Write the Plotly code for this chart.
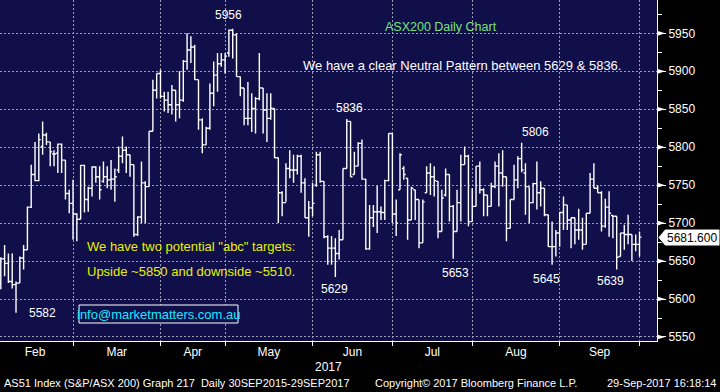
import plotly.graph_objects as go

# ---------------- data ----------------
months = ["Feb", "Mar", "Apr", "May", "Jun", "Jul", "Aug", "Sep"]
days_per_month = [20, 23, 17, 23, 21, 21, 23, 21]   # ASX trading days

open_ = [5621, 5653, 5647, 5623, 5619, 5621, 5654, 5665, 5721, 5764,
         5756, 5801, 5816, 5807, 5791, 5792, 5804, 5783, 5739, 5726,
         5712, 5705, 5776, 5731, 5746, 5774, 5761, 5755, 5761, 5757,
         5758, 5770, 5788, 5796, 5790, 5777, 5685, 5708, 5753, 5748,
         5821, 5875, 5897, 5867, 5862, 5856, 5875, 5856, 5862, 5913,
         5928, 5932, 5889, 5836, 5803, 5825, 5871, 5895, 5910, 5915,
         5924, 5954, 5948, 5893, 5878, 5838, 5838, 5851, 5864, 5878,
         5849, 5838, 5851, 5786, 5740, 5727, 5772, 5770, 5770, 5788,
         5753, 5707, 5720, 5750, 5790, 5755, 5682, 5667, 5667, 5660,
         5678, 5772, 5834, 5764, 5775, 5805, 5758, 5666, 5707, 5715,
         5715, 5714, 5756, 5818, 5712, 5744, 5772, 5759, 5704, 5744,
         5731, 5674, 5740, 5766, 5761, 5755, 5689, 5737, 5764, 5722,
         5689, 5727, 5777, 5788, 5702, 5722, 5775, 5744, 5737, 5722,
         5748, 5775, 5766, 5761, 5693, 5731, 5757, 5785, 5766, 5748,
         5727, 5752, 5740, 5746, 5711, 5669, 5669, 5687, 5714, 5724,
         5704, 5707, 5691, 5691, 5672, 5713, 5758, 5746, 5740, 5696,
         5721, 5710, 5709, 5656, 5687, 5685, 5685, 5672, 5672]
high = [5655, 5671, 5660, 5660, 5623, 5656, 5671, 5722, 5777, 5807,
        5818, 5834, 5819, 5807, 5796, 5805, 5805, 5783, 5744, 5757,
        5713, 5777, 5777, 5748, 5775, 5775, 5775, 5781, 5775, 5783,
        5772, 5801, 5814, 5801, 5790, 5777, 5709, 5781, 5755, 5821,
        5889, 5897, 5902, 5873, 5873, 5882, 5875, 5900, 5915, 5950,
        5946, 5935, 5889, 5838, 5827, 5884, 5913, 5924, 5924, 5924,
        5955, 5956, 5950, 5893, 5878, 5886, 5871, 5866, 5924, 5878,
        5871, 5871, 5851, 5786, 5742, 5779, 5796, 5790, 5790, 5790,
        5759, 5729, 5753, 5794, 5794, 5755, 5684, 5683, 5680, 5691,
        5772, 5837, 5834, 5794, 5807, 5810, 5758, 5724, 5724, 5749,
        5722, 5757, 5818, 5818, 5731, 5792, 5775, 5759, 5748, 5744,
        5731, 5731, 5775, 5779, 5775, 5755, 5744, 5772, 5764, 5724,
        5744, 5790, 5801, 5790, 5746, 5775, 5781, 5746, 5737, 5753,
        5781, 5792, 5796, 5761, 5731, 5777, 5788, 5806, 5779, 5748,
        5753, 5781, 5755, 5746, 5711, 5702, 5691, 5715, 5735, 5724,
        5707, 5707, 5719, 5707, 5713, 5766, 5779, 5750, 5742, 5732,
        5742, 5710, 5709, 5687, 5698, 5711, 5685, 5685, 5689]
low = [5613, 5630, 5621, 5614, 5582, 5621, 5639, 5665, 5720, 5755,
       5755, 5790, 5803, 5775, 5775, 5766, 5766, 5731, 5713, 5678,
       5676, 5705, 5714, 5715, 5735, 5753, 5731, 5753, 5746, 5744,
       5728, 5766, 5779, 5766, 5761, 5682, 5683, 5700, 5700, 5748,
       5821, 5864, 5864, 5847, 5845, 5843, 5834, 5838, 5860, 5902,
       5911, 5889, 5823, 5792, 5803, 5823, 5854, 5873, 5906, 5897,
       5919, 5917, 5893, 5867, 5829, 5829, 5820, 5818, 5862, 5818,
       5807, 5836, 5786, 5700, 5709, 5728, 5759, 5753, 5764, 5740,
       5707, 5682, 5709, 5748, 5753, 5680, 5645, 5645, 5629, 5652,
       5678, 5772, 5761, 5764, 5775, 5757, 5665, 5665, 5695, 5687,
       5704, 5704, 5755, 5700, 5683, 5744, 5757, 5678, 5704, 5704,
       5667, 5674, 5740, 5737, 5735, 5680, 5689, 5735, 5702, 5653,
       5689, 5702, 5777, 5696, 5702, 5722, 5739, 5709, 5709, 5722,
       5746, 5722, 5748, 5676, 5693, 5731, 5746, 5767, 5711, 5700,
       5726, 5718, 5722, 5709, 5669, 5645, 5656, 5669, 5691, 5691,
       5667, 5672, 5678, 5665, 5672, 5713, 5746, 5740, 5689, 5694,
       5682, 5680, 5639, 5656, 5665, 5672, 5650, 5663, 5656]
close = [5653, 5647, 5623, 5619, 5621, 5654, 5665, 5721, 5764, 5756,
         5810, 5816, 5807, 5794, 5791, 5804, 5783, 5739, 5726, 5712,
         5705, 5776, 5731, 5746, 5774, 5761, 5744, 5761, 5757, 5758,
         5761, 5788, 5796, 5790, 5777, 5685, 5708, 5753, 5748, 5821,
         5875, 5897, 5867, 5862, 5856, 5875, 5856, 5862, 5913, 5928,
         5932, 5889, 5836, 5803, 5825, 5871, 5895, 5910, 5915, 5920,
         5954, 5948, 5893, 5878, 5838, 5838, 5851, 5864, 5878, 5849,
         5838, 5851, 5786, 5740, 5727, 5772, 5770, 5770, 5788, 5753,
         5707, 5720, 5726, 5790, 5755, 5682, 5667, 5667, 5660, 5678,
         5772, 5834, 5761, 5775, 5805, 5758, 5666, 5707, 5715, 5715,
         5714, 5756, 5818, 5712, 5700, 5790, 5764, 5704, 5746, 5731,
         5674, 5728, 5766, 5761, 5756, 5689, 5733, 5764, 5722, 5689,
         5727, 5777, 5788, 5702, 5722, 5775, 5744, 5737, 5722, 5748,
         5775, 5766, 5761, 5693, 5731, 5757, 5785, 5770, 5748, 5727,
         5752, 5740, 5746, 5711, 5669, 5669, 5687, 5714, 5724, 5704,
         5707, 5691, 5691, 5672, 5713, 5758, 5746, 5740, 5696, 5721,
         5713, 5709, 5655, 5687, 5685, 5685, 5672, 5672, 5681.6]

last_price = "5681.600"
y_ticks = [5550, 5600, 5650, 5700, 5750, 5800, 5850, 5900, 5950]

# ---------------- derived positions ----------------
idx = list(range(len(close)))
bounds = []          # last trading day of each month (gridline / tick)
s = -1
for d in days_per_month:
    s += d
    bounds.append(s)
prev = [-1] + bounds[:-1]
mids = [(a + b) / 2 for a, b in zip(prev, bounds)]

PW, PH = 657.0, 341.0           # plot area in px
def px(x):
    return x / PW
def py(y):
    return 1 - y / PH

NAVY = "#100f4a"
GRID = "#9c9cae"
FONT = "Liberation Sans, Arial, sans-serif"

fig = go.Figure(go.Ohlc(
    x=idx, open=open_, high=high, low=low, close=close,
    increasing=dict(line=dict(color="white", width=1.4)),
    decreasing=dict(line=dict(color="white", width=1.4)),
    tickwidth=0.5, hoverinfo="skip", showlegend=False))

fig.update_layout(
    template="none",
    width=720, height=392,
    margin=dict(l=0, r=63, t=0, b=51, pad=0),
    paper_bgcolor="black", plot_bgcolor=NAVY,
    font=dict(family=FONT, color="white", size=12),
    showlegend=False,
    xaxis=dict(
        range=[-0.21, 172.6], automargin=False,
        rangeslider=dict(visible=False),
        tickmode="array", tickvals=mids, ticktext=months,
        ticks="", showgrid=False, zeroline=False,
        showline=True, linecolor="white", linewidth=1,
        tickfont=dict(size=12, color="white", family=FONT),
        minor=dict(tickmode="array", tickvals=bounds, ticks="outside",
                   ticklen=4, tickcolor="white", tickwidth=1,
                   showgrid=True, gridcolor=GRID, griddash="2px,2px",
                   gridwidth=1),
    ),
    yaxis=dict(
        side="right", range=[5544.7, 5993.9], automargin=False,
        tickmode="array", tickvals=y_ticks,
        ticks="outside", ticklen=8, tickcolor="white", tickwidth=1,
        showgrid=True, gridcolor=GRID, griddash="2px,2px", gridwidth=1,
        zeroline=False, showline=True, linecolor="white", linewidth=1,
        tickfont=dict(size=12, color="white", family=FONT),
        minor=dict(dtick=25, tick0=5550, ticks="outside", ticklen=4,
                   tickcolor="white", tickwidth=1, showgrid=False),
    ),
)

shapes = []
# triangles on the price axis
dv = 2.6 / 0.7593
for v in y_ticks:
    shapes.append(dict(type="path", xref="paper", yref="y",
                       path=f"M 1.0,{v + dv} L {px(665)},{v} L 1.0,{v - dv} Z",
                       fillcolor="white", line=dict(width=0), layer="above"))
# last price tag
shapes.append(dict(type="path", xref="paper", yref="paper",
                   path=(f"M {px(658)},{py(237.6)} L {px(665)},{py(229)} "
                         f"L {px(720)},{py(229)} L {px(720)},{py(246)} "
                         f"L {px(665)},{py(246)} Z"),
                   fillcolor="white", line=dict(color="black", width=1),
                   layer="above"))
# email box
shapes.append(dict(type="rect", xref="paper", yref="paper",
                   x0=px(79), x1=px(238), y0=py(323), y1=py(305),
                   line=dict(color="white", width=1), fillcolor=NAVY,
                   layer="above"))
fig.update_layout(shapes=shapes)

ann = []
def add(text, x, y, color="white", size=12, xanchor="center"):
    ann.append(dict(text=text, x=px(x), y=py(y), xref="paper", yref="paper",
                    showarrow=False, xanchor=xanchor, yanchor="middle",
                    font=dict(color=color, size=size, family=FONT)))

add("5956", 228, 15)
add("ASX200 Daily Chart", 441, 26.5, color="#7be27b", size=12.5)
add("We have a clear Neutral Pattern between 5629 &amp; 5836.", 301, 65.5,
    size=13, xanchor="left")
add("5836", 349, 108)
add("5806", 535, 132)
add("5582", 42, 313)
add("5629", 334, 289)
add("5653", 455, 273)
add("5645", 546, 279)
add("5639", 610, 281)
add("We have two potential \"abc\" targets:", 85, 246, color="#e8f000",
    size=13, xanchor="left")
add("Upside ~5850 and downside ~5510.", 85, 271, color="#e8f000",
    size=13, xanchor="left")
add("info@marketmatters.com.au", 158.5, 314, color="#18e8ff", size=13)
add("2017", 328, 367)
add("AS51 Index (S&amp;P/ASX 200) Graph 217  Daily 30SEP2015-29SEP2017",
    2, 383, size=11, xanchor="left")
add("Copyright\u00a9 2017 Bloomberg Finance L.P.", 373, 383, size=11,
    xanchor="left")
add("29-Sep-2017 16:18:14", 718, 383, size=11, xanchor="right")
add(last_price, 692, 237.6, color="black", size=12)
fig.update_layout(annotations=ann)

fig.write_html(
    "out.html", config={"displayModeBar": False},
    post_script="document.body.style.margin='0';"
                "document.body.style.overflow='hidden';")
